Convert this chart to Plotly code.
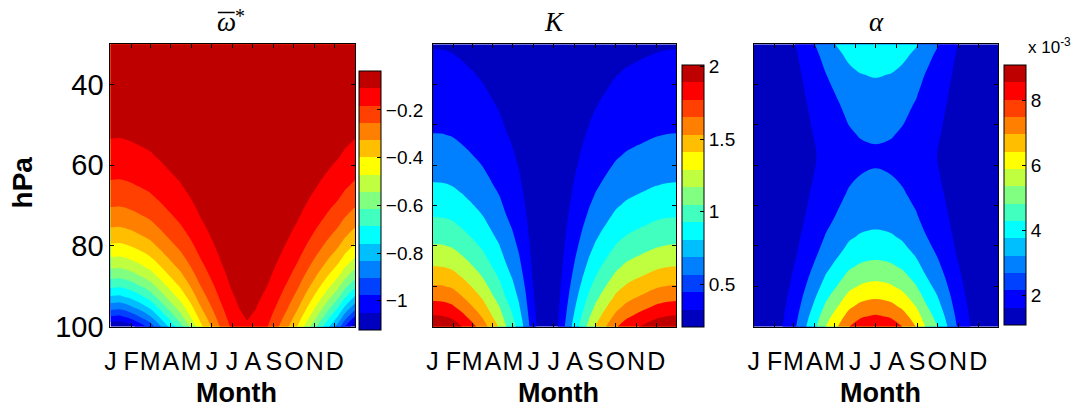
import numpy as np
import plotly.graph_objects as go

W, H = 1080, 408

# ---------------- shared coordinates ----------------
P_LEVELS = [30, 32.5, 35, 37.5, 40, 42.5, 45, 47.5, 50, 52.5, 55, 57.5, 60, 62.5, 65,
            67.5, 70, 72.5, 75, 77.5, 80, 82.5, 85, 87.5, 90, 92.5, 95, 97.5, 100]
MONTH_START_DAYS = [1, 32, 60, 91, 121, 152, 182, 213, 244, 274, 305, 335]
MONTH_LABELS = ["J", "F", "M", "A", "M", "J", "J", "A", "S", "O", "N", "D"]

# 15-step jet palette shared by the three colour bars
JET15 = ["#0000BF", "#0000FF", "#0040FF", "#0080FF", "#00BFFF", "#00FFFF", "#40FFBF",
         "#80FF80", "#BFFF40", "#FFFF00", "#FFBF00", "#FF8000", "#FF4000", "#FF0000", "#BF0000"]

# ---------------- omega-bar-star ----------------
OMEGA_DAYS = [1, 15, 30, 45, 60, 75, 90, 105, 120, 135, 150, 165, 180, 193, 204,
              216, 235, 250, 265, 280, 295, 310, 325, 340, 350, 358, 365]
OMEGA_100HPA = [-1.11, -1.12, -1.08, -1.02, -0.95, -0.845, -0.74, -0.645, -0.535, -0.42,
                -0.33, -0.245, -0.175, -0.135, -0.117, -0.132, -0.181, -0.245, -0.318,
                -0.405, -0.515, -0.63, -0.75, -0.87, -0.98, -1.05, -1.11]
OMEGA_PROFILE = [0.0302, 0.0342, 0.0388, 0.0439, 0.0498, 0.0564, 0.0639, 0.0724, 0.0821,
                 0.0930, 0.1054, 0.1194, 0.1353, 0.1534, 0.1738, 0.1969, 0.2231, 0.2528,
                 0.2865, 0.3247, 0.3679, 0.4169, 0.4724, 0.5353, 0.6065, 0.6873, 0.7788,
                 0.8825, 1.0]
OMEGA_CBAR = [-1.122, -0.036]
OMEGA_BANDS = list(range(15))

# ---------------- K ----------------
K_DAYS = [1, 15, 30, 45, 60, 75, 90, 100, 110, 120, 130, 140, 150, 160, 172, 185, 195,
          205, 215, 225, 235, 245, 255, 265, 275, 290, 305, 320, 335, 350, 365]
K_EXCESS = [1.976, 1.97, 1.92, 1.80, 1.66, 1.51, 1.31, 1.19, 1.02, 0.89, 0.73, 0.53, 0.30,
            0.14, 0.08, 0.14, 0.33, 0.53, 0.72, 0.90, 1.07, 1.22, 1.34, 1.46, 1.58, 1.70,
            1.78, 1.85, 1.92, 1.96, 1.976]
K_PROFILE = [0.0970, 0.1054, 0.1146, 0.1245, 0.1353, 0.1471, 0.1599, 0.1738, 0.1889,
             0.2053, 0.2231, 0.2425, 0.2636, 0.2865, 0.3114, 0.3385, 0.3679, 0.3998,
             0.4346, 0.4724, 0.5134, 0.5580, 0.6065, 0.6592, 0.7165, 0.7788, 0.8465,
             0.9200, 1.0]
K_BACKGROUND = 0.2
K_LEVELS = [0.4, 0.6, 0.8, 1.0, 1.2, 1.4, 1.6, 1.8, 2.0]
K_CBAR = [0.207, 2.011]
K_BANDS = [0, 1, 3, 5, 6, 8, 10, 11, 13, 14]

# ---------------- alpha (units of 1e-3) ----------------
ALPHA_DAYS = [1, 15, 30, 44, 54, 64, 79, 94, 108, 126, 143, 160, 182, 205, 222, 242, 256,
              274, 289, 303, 313, 323, 337, 351, 365]
ALPHA_SEASON = [0.01, 0.02, 0.06, 0.129, 0.19, 0.258, 0.387, 0.516, 0.645, 0.774, 0.903,
                0.97, 1.0, 0.97, 0.903, 0.774, 0.645, 0.516, 0.387, 0.258, 0.19, 0.129,
                0.06, 0.02, 0.01]
ALPHA_PROFILE = [4.02, 3.62, 3.32, 3.07, 2.86, 2.67, 2.50, 2.36, 2.23, 2.11, 1.99, 1.92,
                 1.97, 2.07, 2.20, 2.34, 2.50, 2.68, 2.90, 3.17, 3.47, 3.83, 4.26, 4.74,
                 5.25, 5.85, 6.45, 7.12, 7.75]
ALPHA_BACKGROUND = 1.0
ALPHA_LEVELS = [2, 3, 4, 5, 6, 7, 8]
ALPHA_CBAR = [1.08, 9.08]
ALPHA_BANDS = [0, 1, 3, 5, 7, 9, 11, 13]

# ---------------- fields (pressure x day tables) ----------------
omega_z = np.outer(OMEGA_PROFILE, OMEGA_100HPA)
k_z = K_BACKGROUND + np.outer(K_PROFILE, K_EXCESS)
alpha_z = ALPHA_BACKGROUND + np.outer(ALPHA_PROFILE, ALPHA_SEASON)

w1 = (OMEGA_CBAR[1] - OMEGA_CBAR[0]) / 15.0
OMEGA_LEVELS = [OMEGA_CBAR[0] + w1 * k for k in range(1, 15)]

FONT = "Liberation Sans"
SERIF = "Liberation Serif"

# pixel layout
PLOT_X = [(105, 351), (429, 674), (752, 998)]
PLOT_Y = (46, 340)
CBAR = [dict(x=355, top=79, bottom=338), dict(x=680, top=73, bottom=335),
        dict(x=1004, top=73, bottom=333)]


def px(x):
    return x / W


def py(y):
    return 1 - y / H


def stepped(colors):
    n = len(colors)
    out = []
    for i, c in enumerate(colors):
        out.append([i / n, c])
        out.append([(i + 1) / n, c])
    return out


fig = go.Figure()

panels = [
    (OMEGA_DAYS, omega_z, OMEGA_LEVELS, OMEGA_BANDS, OMEGA_CBAR,
     dict(tickvals=[-1, -0.8, -0.6, -0.4, -0.2],
          ticktext=["\u22121", "\u22120.8", "\u22120.6", "\u22120.4", "\u22120.2"])),
    (K_DAYS, k_z, K_LEVELS, K_BANDS, K_CBAR,
     dict(tickvals=[0.5, 1, 1.5, 2], ticktext=["0.5", "1", "1.5", "2"])),
    (ALPHA_DAYS, alpha_z, ALPHA_LEVELS, ALPHA_BANDS, ALPHA_CBAR,
     dict(tickvals=[2, 4, 6, 8], ticktext=["2", "4", "6", "8"])),
]

for i, (days, z, levels, bands, crange, cticks) in enumerate(panels):
    ax = "" if i == 0 else str(i + 1)
    n = len(levels)
    step = levels[1] - levels[0]
    region_colors = [JET15[b] for b in bands]
    cscale = [[k / n, region_colors[k]] for k in range(n + 1)]
    fig.add_trace(go.Contour(
        x=days, y=P_LEVELS, z=z,
        autocontour=False,
        contours=dict(start=levels[0], end=levels[-1] + 0.3 * step, size=step,
                      coloring="fill", showlines=False),
        colorscale=cscale, showscale=False,
        line=dict(width=0, smoothing=1.0),
        hoverinfo="skip",
        xaxis="x" + ax, yaxis="y" + ax,
    ))
    cb = CBAR[i]
    fig.add_trace(go.Scatter(
        x=[days[0], days[0]], y=[P_LEVELS[0], P_LEVELS[0]], mode="markers",
        marker=dict(size=1, opacity=0, color=crange, cmin=crange[0], cmax=crange[1],
                    colorscale=stepped(JET15), showscale=True,
                    colorbar=dict(
                        x=px(cb["x"]), xanchor="left", xref="paper", xpad=0,
                        y=py((cb["top"] + cb["bottom"]) / 2), yanchor="middle", ypad=0,
                        len=cb["bottom"] - cb["top"], lenmode="pixels",
                        thickness=22, thicknessmode="pixels",
                        outlinewidth=1, outlinecolor="black",
                        ticks="inside", ticklen=4, tickcolor="black",
                        tickmode="array", tickvals=cticks["tickvals"],
                        ticktext=cticks["ticktext"],
                        tickfont=dict(family=FONT, size=19, color="black"),
                    )),
        hoverinfo="skip", showlegend=False,
        xaxis="x" + ax, yaxis="y" + ax,
    ))

    xa = dict(domain=[px(PLOT_X[i][0]), px(PLOT_X[i][1])], range=[1, 365],
              tickmode="array", tickvals=MONTH_START_DAYS, ticktext=MONTH_LABELS,
              tickangle=0, ticks="inside", ticklen=4, tickcolor="black",
              ticklabelstandoff=12,
              showline=True, linecolor="black", linewidth=1, mirror="ticks",
              showgrid=False, zeroline=False,
              tickfont=dict(family=FONT, size=25, color="black"),
              anchor="y" + ax)
    if i == 0:
        ya_ticks = dict(tickvals=[40, 60, 80, 100], showticklabels=True)
    else:
        ya_ticks = dict(tickvals=[40, 50, 60, 70, 80, 90], showticklabels=False)
    ya = dict(domain=[py(PLOT_Y[1]), py(PLOT_Y[0])], range=[100, 30],
              tickmode="array", ticks="inside", ticklen=4, tickcolor="black",
              showline=True, linecolor="black", linewidth=1, mirror="ticks",
              showgrid=False, zeroline=False,
              tickfont=dict(family=FONT, size=29, color="black"),
              anchor="x" + ax, **ya_ticks)
    fig.update_layout(**{"xaxis" + ax: xa, "yaxis" + ax: ya})

annotations = []
titles = ["<i>\u03c9</i>", "<i>K</i>", "<i>\u03b1</i>"]
for i, t in enumerate(titles):
    cx = (PLOT_X[i][0] + PLOT_X[i][1]) / 2
    tx = cx - 6 if i == 0 else cx
    annotations.append(dict(text=t, x=px(tx), y=py(23), xref="paper", yref="paper",
                            xanchor="center", yanchor="middle", showarrow=False,
                            font=dict(family=SERIF, size=27, color="black")))
    annotations.append(dict(text="<b>Month</b>", x=px(cx + 4), y=py(409), xref="paper",
                            yref="paper", xanchor="center", yanchor="middle", showarrow=False,
                            font=dict(family=FONT, size=27, color="black")))
# superscript star of the omega title
annotations.append(dict(text="*", x=px(235), y=py(17), xref="paper", yref="paper",
                        xanchor="center", yanchor="middle", showarrow=False,
                        font=dict(family=SERIF, size=20, color="black")))
annotations.append(dict(text="<b>hPa</b>", x=px(17), y=py(190), xref="paper", yref="paper",
                        xanchor="center", yanchor="middle", textangle=-90, showarrow=False,
                        font=dict(family=FONT, size=28, color="black")))
annotations.append(dict(text="x 10<sup>-3</sup>", x=px(1026), y=py(48), xref="paper",
                        yref="paper", xanchor="left", yanchor="middle", showarrow=False,
                        font=dict(family=FONT, size=17, color="black")))

# overline on the omega title
shapes = [dict(type="line", xref="paper", yref="paper", x0=px(213), x1=px(230),
               y0=py(13), y1=py(13), line=dict(color="black", width=1.5))]

fig.update_layout(width=W, height=H, margin=dict(l=0, r=0, t=0, b=0),
                  paper_bgcolor="white", plot_bgcolor="white", showlegend=False,
                  annotations=annotations, shapes=shapes)

fig.write_html("out.html")
